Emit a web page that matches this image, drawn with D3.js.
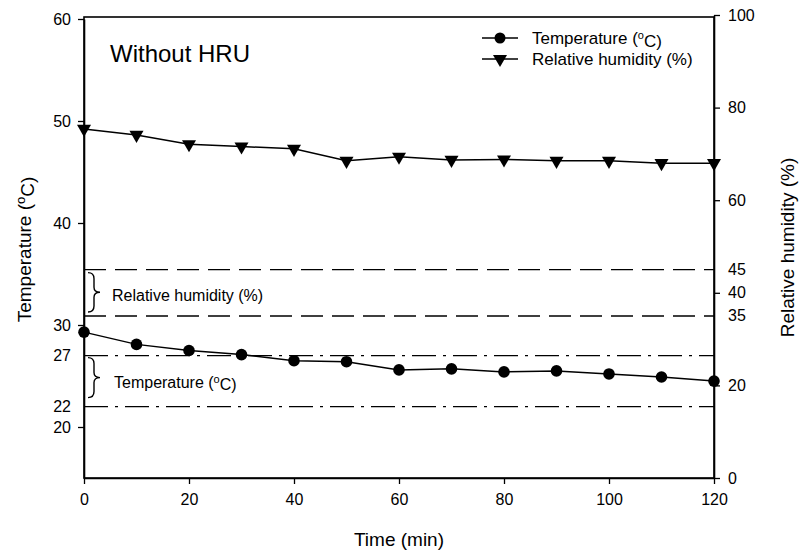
<!DOCTYPE html>
<html>
<head>
<meta charset="utf-8">
<script src="https://cdn.jsdelivr.net/npm/d3@7"></script>
<style>
  body { margin: 0; background: #fff; }
  svg { font-family: "Liberation Sans", Arial, sans-serif; }
</style>
</head>
<body>
<svg id="chart" width="800" height="556"></svg>
<script>
// data
const times = [0, 10, 20, 30, 40, 50, 60, 70, 80, 90, 100, 110, 120];
const temperature = [29.3, 28.1, 27.5, 27.1, 26.5, 26.4, 25.6, 25.7, 25.4, 25.5, 25.2, 24.9, 24.5];
const humidity = [75.4, 74.1, 72.1, 71.6, 71.1, 68.5, 69.4, 68.7, 68.8, 68.5, 68.5, 68.0, 68.0];

const xTicks = [0, 20, 40, 60, 80, 100, 120];
const tempTicks = [20, 30, 40, 50, 60];
const tempExtraLabels = [22, 27];
const rhTicks = [0, 20, 40, 60, 80, 100];
const rhExtraLabels = [35, 45];
const tempRange = [22, 27];   // comfort band, temperature
const rhRange = [35, 45];     // comfort band, humidity

const pL = 84, pR = 714, pT = 17, pB = 478;

let svg = d3.select('#chart');

let x = d3.scaleLinear().domain([0, 120]).range([pL, pR]);
let yT = d3.scaleLinear().domain([15, 60]).range([pB, 19]);
let yH = d3.scaleLinear().domain([0, 100]).range([pB, 15]);

// frame
svg.append('rect')
    .attr('x', pL).attr('y', pT)
    .attr('width', pR - pL).attr('height', pB - pT)
    .attr('fill', 'none').attr('stroke', '#000').attr('stroke-width', 1.6);

// axes
let xAxis = d3.axisBottom(x).tickValues(xTicks).tickSize(6).tickPadding(10).tickSizeOuter(0);
let gx = svg.append('g').attr('transform', `translate(0,${pB})`).call(xAxis);

let yAxisL = d3.axisLeft(yT).tickValues(tempTicks).tickSize(6).tickPadding(7).tickSizeOuter(0);
let gl = svg.append('g').attr('transform', `translate(${pL},0)`).call(yAxisL);

let yAxisR = d3.axisRight(yH).tickValues(rhTicks).tickSize(6).tickPadding(8).tickSizeOuter(0);
let gr = svg.append('g').attr('transform', `translate(${pR},0)`).call(yAxisR);

[gx, gl, gr].forEach(g => {
    g.select('.domain').attr('stroke', '#000').attr('stroke-width', 1.6);
    g.selectAll('.tick line').attr('stroke', '#000').attr('stroke-width', 1.3);
    g.selectAll('.tick text').attr('fill', '#000').style('font-size', '16px');
});

// extra labels without ticks
svg.append('g').selectAll('text')
    .data(tempExtraLabels).enter().append('text')
    .attr('x', pL - 13).attr('y', d => yT(d))
    .attr('dy', '0.32em').attr('text-anchor', 'end')
    .style('font-size', '16px')
    .text(d => d);

svg.append('g').selectAll('text')
    .data(rhExtraLabels).enter().append('text')
    .attr('x', pR + 14).attr('y', d => yH(d))
    .attr('dy', '0.32em').attr('text-anchor', 'start')
    .style('font-size', '16px')
    .text(d => d);

// reference lines
svg.append('g').selectAll('line')
    .data(rhRange).enter().append('line')
    .attr('x1', pL).attr('x2', pR)
    .attr('y1', d => yH(d)).attr('y2', d => yH(d))
    .attr('stroke', '#000').attr('stroke-width', 1.4)
    .attr('stroke-dasharray', '22,9');

svg.append('g').selectAll('line')
    .data(tempRange).enter().append('line')
    .attr('x1', pL).attr('x2', pR)
    .attr('y1', d => yT(d)).attr('y2', d => yT(d))
    .attr('stroke', '#000').attr('stroke-width', 1.4)
    .attr('stroke-dasharray', '24,7,3,7');

// braces
let brace = (x0, y0, y1, w) => {
    let ym = (y0 + y1) / 2;
    let xm = x0 + w / 2;
    return `M${x0},${y0} Q${xm},${y0} ${xm},${y0 + 6} L${xm},${ym - 5} Q${xm},${ym} ${x0 + w},${ym}`
        + ` Q${xm},${ym} ${xm},${ym + 5} L${xm},${y1 - 6} Q${xm},${y1} ${x0},${y1}`;
};
svg.append('path')
    .attr('d', brace(88, yH(rhRange[1]) + 3, yH(rhRange[0]) - 4, 12))
    .attr('fill', 'none').attr('stroke', '#000').attr('stroke-width', 1.4);
svg.append('path')
    .attr('d', brace(88, yT(tempRange[1]) + 2, yT(tempRange[0]) - 9, 12))
    .attr('fill', 'none').attr('stroke', '#000').attr('stroke-width', 1.4);

svg.append('text')
    .attr('x', 112).attr('y', (yH(rhRange[0]) + yH(rhRange[1])) / 2 + 3)
    .attr('dy', '0.35em').style('font-size', '16px')
    .text('Relative humidity (%)');

let tl = svg.append('text')
    .attr('x', 114).attr('y', (yT(tempRange[0]) + yT(tempRange[1])) / 2 + 1)
    .attr('dy', '0.35em').style('font-size', '16px');
tl.append('tspan').text('Temperature (');
tl.append('tspan').attr('dy', '-0.45em').style('font-size', '11px').text('o');
tl.append('tspan').attr('dy', '0.45em').text('C)');

// lines
let lineT = d3.line().x((d, i) => x(times[i])).y(d => yT(d));
let lineH = d3.line().x((d, i) => x(times[i])).y(d => yH(d));

svg.append('path').datum(temperature)
    .attr('d', lineT).attr('fill', 'none')
    .attr('stroke', '#000').attr('stroke-width', 1.5);
svg.append('path').datum(humidity)
    .attr('d', lineH).attr('fill', 'none')
    .attr('stroke', '#000').attr('stroke-width', 1.5);

let tri = d3.symbol().type(d3.symbolTriangle).size(85);

svg.append('g').selectAll('circle')
    .data(temperature).enter().append('circle')
    .attr('cx', (d, i) => x(times[i])).attr('cy', d => yT(d))
    .attr('r', 5.8).attr('fill', '#000');

svg.append('g').selectAll('path')
    .data(humidity).enter().append('path')
    .attr('d', tri)
    .attr('transform', (d, i) => `translate(${x(times[i])},${yH(d)}) rotate(180)`)
    .attr('fill', '#000');

// title text
svg.append('text')
    .attr('x', 110).attr('y', 62)
    .style('font-size', '24px')
    .text('Without HRU');

// legend
let legend = svg.append('g');
let rows = [{ y: 38, label: 'Temperature (', sup: 'o', tail: 'C)', marker: 'circle' },
            { y: 59, label: 'Relative humidity (%)', marker: 'tri' }];
rows.forEach(r => {
    legend.append('line')
        .attr('x1', 482).attr('x2', 518).attr('y1', r.y).attr('y2', r.y)
        .attr('stroke', '#000').attr('stroke-width', 1.5);
    if (r.marker === 'circle') {
        legend.append('circle').attr('cx', 500).attr('cy', r.y).attr('r', 5.5).attr('fill', '#000');
    } else {
        legend.append('path').attr('d', tri)
            .attr('transform', `translate(500,${r.y}) rotate(180)`).attr('fill', '#000');
    }
    let t = legend.append('text')
        .attr('x', 532).attr('y', r.y).attr('dy', '0.35em')
        .style('font-size', '17px');
    t.append('tspan').text(r.label);
    if (r.sup) {
        t.append('tspan').attr('dy', '-0.45em').style('font-size', '11px').text(r.sup);
        t.append('tspan').attr('dy', '0.45em').text(r.tail);
    }
});

// axis titles
let yl = svg.append('text')
    .attr('transform', `translate(31,${(pT + pB) / 2 + 2}) rotate(-90)`)
    .attr('text-anchor', 'middle')
    .style('font-size', '19px');
yl.append('tspan').text('Temperature (');
yl.append('tspan').attr('dy', '-0.45em').style('font-size', '13px').text('o');
yl.append('tspan').attr('dy', '0.45em').text('C)');

svg.append('text')
    .attr('transform', `translate(794,${(pT + pB) / 2}) rotate(-90)`)
    .attr('text-anchor', 'middle')
    .style('font-size', '19px')
    .text('Relative humidity (%)');

svg.append('text')
    .attr('x', (pL + pR) / 2).attr('y', 546)
    .attr('text-anchor', 'middle')
    .style('font-size', '19px')
    .text('Time (min)');
</script>
</body>
</html>
